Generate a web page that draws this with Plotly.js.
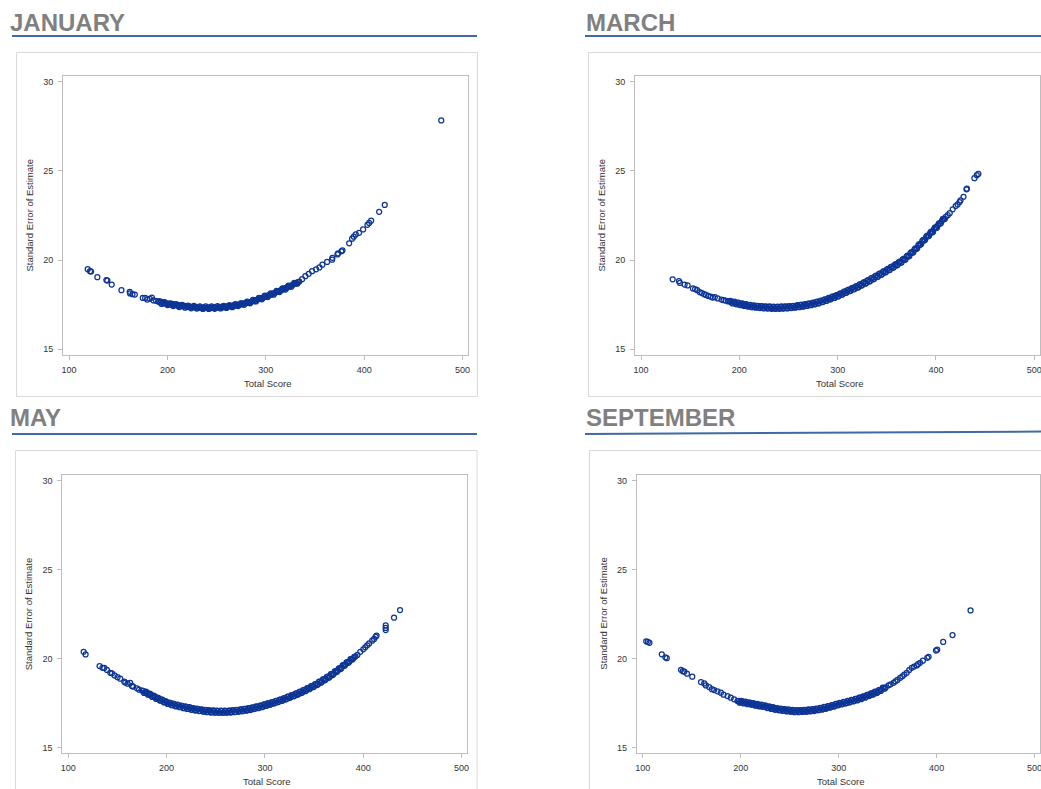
<!DOCTYPE html>
<html>
<head>
<meta charset="utf-8">
<script src="https://cdn.plot.ly/plotly-3.0.1.min.js"></script>
<style>
  html, body { margin: 0; padding: 0; background: #ffffff; overflow: hidden; }
  #chart { width: 1041px; height: 789px; }
</style>
</head>
<body>
<div id="chart"></div>
<script>
// Standard error of the ability estimate against total score, one panel per test window.

const panelTitles = ["JANUARY", "MARCH", "MAY", "SEPTEMBER"];
const xTitle = "Total Score";
const yTitle = "Standard Error of Estimate";
const xTickValues = [100, 200, 300, 400, 500];
const yTickValues = [15, 20, 25, 30];

// January
const janScore = [
  119.0, 121.4, 122.4, 128.8, 138.0, 139.0, 143.4, 153.3, 161.7, 162.0, 164.5, 166.9,
  175.0, 177.4, 179.4, 182.1, 184.2, 185.8, 188.5,
  191, 193, 195, 196, 198, 199, 201, 202, 204, 205, 207, 208, 210, 211, 213, 214, 216, 217, 219, 220,
  222, 223, 225, 226, 228, 229, 231, 232, 234, 235, 237, 238, 240, 241, 243, 244, 246, 247, 249, 250,
  252, 253, 255, 256, 258, 259, 261, 262, 264, 265, 267, 268, 270, 271, 273, 274, 276, 277, 279, 280,
  282, 283, 285, 286, 288, 289, 291, 292, 294, 295, 297, 298, 300, 301, 303, 304, 306, 307, 309, 310,
  312, 313, 315, 316, 318, 319, 321, 322, 324, 325, 327, 328, 330, 331, 333, 334,
  336.9, 340.2, 343.6, 347.0, 351.1, 354.5, 357.5, 362.3, 367.4, 367.7, 372.8, 373.5, 376.8, 377.9,
  384.7, 387.7, 389.4, 391.4, 394.8, 398.9, 403.3, 405.0, 407.1, 415.2, 420.9, 478.3
];
const janSE = [
  19.49, 19.38, 19.36, 19.04, 18.88, 18.85, 18.63, 18.31, 18.22, 18.13, 18.09, 18.07,
  17.88, 17.88, 17.79, 17.83, 17.90, 17.74, 17.72,
  17.66, 17.62, 17.64, 17.58, 17.60, 17.55, 17.56, 17.52, 17.50, 17.54, 17.48, 17.50, 17.46, 17.44, 17.47, 17.42, 17.41, 17.44, 17.40, 17.38,
  17.41, 17.37, 17.36, 17.39, 17.35, 17.33, 17.37, 17.34, 17.32, 17.35, 17.33, 17.31, 17.34, 17.32, 17.35, 17.31, 17.33, 17.36, 17.32, 17.34,
  17.37, 17.35, 17.33, 17.38, 17.36, 17.40, 17.38, 17.42, 17.40, 17.44, 17.43, 17.47, 17.45, 17.49, 17.50, 17.53, 17.52, 17.56, 17.57, 17.60,
  17.60, 17.64, 17.66, 17.69, 17.70, 17.74, 17.76, 17.80, 17.83, 17.86, 17.88, 17.93, 17.95, 17.99, 18.02, 18.05, 18.08, 18.12, 18.15, 18.19,
  18.22, 18.26, 18.30, 18.33, 18.37, 18.41, 18.44, 18.48, 18.52, 18.55, 18.60, 18.64, 18.68, 18.72, 18.77, 18.80,
  18.93, 19.10, 19.23, 19.38, 19.48, 19.59, 19.74, 19.90, 20.02, 20.13, 20.32, 20.38, 20.49, 20.54,
  20.94, 21.20, 21.31, 21.44, 21.53, 21.72, 21.98, 22.08, 22.21, 22.71, 23.09, 27.83
];
// January, further examinees in the crowded middle of the range: [score, SE]
const janMiddle = [
  [192, 17.70], [194, 17.54], [197, 17.65], [200, 17.48], [203, 17.58], [206, 17.42], [209, 17.53], [212, 17.37],
  [215, 17.49], [218, 17.33], [221, 17.45], [224, 17.30], [227, 17.43], [230, 17.28], [233, 17.41], [236, 17.26],
  [239, 17.40], [242, 17.26], [245, 17.40], [248, 17.27], [251, 17.42], [254, 17.29], [257, 17.44], [260, 17.32],
  [263, 17.48], [266, 17.36], [269, 17.53], [272, 17.42], [275, 17.59], [278, 17.49], [281, 17.67], [284, 17.58],
  [287, 17.77], [290, 17.68], [293, 17.88], [296, 17.80], [299, 18.01], [302, 17.93], [305, 18.13], [308, 18.06],
  [311, 18.27], [314, 18.21], [317, 18.42], [320, 18.35], [323, 18.57], [326, 18.51], [329, 18.73], [332, 18.68]
];

// March
const marScore = [
  132.2, 138.6, 139.6, 144.4, 147.4, 152.8, 155, 157.2, 159.9, 162, 164.3, 166, 168.3, 171, 173, 175.1,
  178, 181.9, 184, 186, 188.6,
  190, 192, 194, 196, 198, 200, 202, 204, 206, 208, 210, 212, 214, 216, 218, 220, 222, 224, 226, 228,
  230, 232, 234, 236, 238, 240, 242, 244, 246, 248, 250, 252, 254, 256, 258, 260, 262, 264, 266, 268,
  270, 272, 274, 276, 278, 280, 282, 284, 286, 288, 290, 292, 294, 296, 298, 300, 302, 304, 306, 308,
  310, 312, 314, 316, 318, 320, 322, 324, 326, 328, 330, 332, 334, 336, 338, 340, 342, 344, 346, 348,
  350, 352, 354, 356, 358, 360, 362, 364, 366, 368, 370, 372, 374, 376, 378, 380, 382, 384, 386, 388,
  390, 392, 394, 396, 398, 400, 402, 404, 406, 408, 410, 412, 414, 417, 420, 422, 424, 425, 428,
  431, 431.5, 439.1, 441.5, 443.1
];
const marSE = [
  18.92, 18.82, 18.72, 18.63, 18.58, 18.41, 18.38, 18.31, 18.20, 18.15, 18.09, 18.05, 17.99, 17.95, 17.90, 17.92,
  17.85, 17.79, 17.75, 17.73, 17.68,
  17.70, 17.62, 17.65, 17.57, 17.60, 17.51, 17.55, 17.47, 17.51, 17.43, 17.47, 17.39, 17.44, 17.36, 17.42, 17.34, 17.41, 17.32, 17.39, 17.31,
  17.38, 17.30, 17.37, 17.29, 17.37, 17.29, 17.38, 17.30, 17.39, 17.31, 17.40, 17.33, 17.42, 17.35, 17.44, 17.38, 17.47, 17.41, 17.50, 17.44,
  17.54, 17.48, 17.58, 17.53, 17.64, 17.58, 17.70, 17.65, 17.77, 17.72, 17.84, 17.80, 17.92, 17.88, 18.01, 17.96, 18.10, 18.06, 18.20, 18.16,
  18.30, 18.26, 18.40, 18.36, 18.50, 18.46, 18.61, 18.57, 18.73, 18.68, 18.85, 18.80, 18.97, 18.92, 19.09, 19.05, 19.21, 19.17, 19.34, 19.30,
  19.47, 19.43, 19.60, 19.57, 19.73, 19.70, 19.87, 19.85, 20.02, 20.01, 20.19, 20.20, 20.38, 20.40, 20.59, 20.62, 20.82, 20.86, 21.06, 21.10,
  21.30, 21.33, 21.51, 21.55, 21.74, 21.80, 21.95, 22.05, 22.20, 22.30, 22.43, 22.52, 22.63, 22.85, 23.03, 23.12, 23.25, 23.35, 23.55,
  23.97, 24.00, 24.59, 24.76, 24.83
];
// March, further examinees in the crowded middle of the range: [score, SE]
const marMiddle = [
  [191, 17.72], [193, 17.57], [195, 17.67], [197, 17.52], [199, 17.61], [201, 17.47], [203, 17.57], [205, 17.43], [207, 17.53], [209, 17.39],
  [211, 17.49], [213, 17.35], [215, 17.46], [217, 17.33], [219, 17.44], [221, 17.31], [223, 17.42], [225, 17.29], [227, 17.41], [229, 17.28],
  [231, 17.40], [233, 17.27], [235, 17.39], [237, 17.27], [239, 17.39], [241, 17.27], [243, 17.40], [245, 17.28], [247, 17.41], [249, 17.29],
  [251, 17.42], [253, 17.31], [255, 17.44], [257, 17.33], [259, 17.47], [261, 17.36], [263, 17.50], [265, 17.39], [267, 17.53], [269, 17.43],
  [271, 17.57], [273, 17.47], [275, 17.61], [277, 17.52], [279, 17.67], [281, 17.58], [283, 17.73], [285, 17.65], [287, 17.80], [289, 17.72],
  [291, 17.88], [293, 17.80], [295, 17.96], [297, 17.88], [299, 18.04], [301, 17.97], [303, 18.14], [305, 18.07], [307, 18.24], [309, 18.17],
  [311, 18.34], [313, 18.27], [315, 18.44], [317, 18.37], [319, 18.54], [321, 18.47], [323, 18.65], [325, 18.59], [327, 18.76], [329, 18.70],
  [331, 18.88], [333, 18.82], [335, 19.00], [337, 18.94], [339, 19.13], [341, 19.07], [343, 19.25], [345, 19.19], [347, 19.38], [349, 19.32],
  [351, 19.51], [353, 19.45], [355, 19.64], [357, 19.59], [359, 19.77], [361, 19.72], [363, 19.92], [365, 19.87], [367, 20.07], [369, 20.04],
  [371, 20.25], [373, 20.23], [375, 20.45], [377, 20.44], [379, 20.66], [381, 20.66], [383, 20.90], [385, 20.90], [387, 21.14], [389, 21.14],
  [391, 21.37], [393, 21.36], [395, 21.59], [397, 21.58], [399, 21.83], [401, 21.82], [403, 22.06], [405, 22.06], [407, 22.31], [409, 22.30]
];

// May
const mayScore = [
  115.6, 117.6, 131.8, 134.8, 136.6, 139.3, 142.7, 144.4, 147, 150.1, 152.8, 156.9, 158, 160.3, 163.0, 164.7,
  166, 169.8, 172, 175,
  176, 178, 180, 182, 184, 186, 188, 190, 192, 194, 196, 198, 200, 202, 204, 206, 208, 210, 212, 214,
  216, 218, 220, 222, 224, 226, 228, 230, 232, 234, 236, 238, 240, 242, 244, 246, 248, 250, 252, 254,
  256, 258, 260, 262, 264, 266, 268, 270, 272, 274, 276, 278, 280, 282, 284, 286, 288, 290, 292, 294,
  296, 298, 300, 302, 304, 306, 308, 310, 312, 314, 316, 318, 320, 322, 324, 326, 328, 330, 332, 334,
  336, 338, 340, 342, 344, 346, 348, 350, 352, 354, 356, 358, 360, 362, 364, 366, 368, 370, 372, 374,
  376, 378, 380, 382, 384, 386, 388, 390, 392, 394, 397, 400, 402, 404, 406, 409, 411, 412.6, 413.5,
  422.8, 422.8, 422.8, 431.3, 437.4
];
const maySE = [
  20.38, 20.23, 19.58, 19.48, 19.47, 19.36, 19.20, 19.17, 19.05, 18.95, 18.87, 18.70, 18.65, 18.59, 18.63, 18.46,
  18.42, 18.33, 18.25, 18.20,
  18.18, 18.08, 18.08, 17.98, 17.97, 17.86, 17.86, 17.75, 17.76, 17.65, 17.66, 17.55, 17.56, 17.46, 17.49, 17.39, 17.43, 17.33, 17.38, 17.28,
  17.33, 17.22, 17.28, 17.18, 17.24, 17.13, 17.19, 17.10, 17.16, 17.06, 17.13, 17.03, 17.10, 17.01, 17.08, 16.99, 17.07, 16.98, 17.06, 16.97,
  17.06, 16.97, 17.06, 16.98, 17.07, 16.99, 17.09, 17.01, 17.11, 17.04, 17.14, 17.07, 17.17, 17.10, 17.20, 17.14, 17.25, 17.19, 17.30, 17.24,
  17.36, 17.30, 17.42, 17.37, 17.48, 17.43, 17.55, 17.50, 17.62, 17.57, 17.70, 17.65, 17.78, 17.73, 17.86, 17.82, 17.95, 17.90, 18.04, 18.00,
  18.14, 18.10, 18.24, 18.21, 18.35, 18.32, 18.46, 18.43, 18.58, 18.56, 18.71, 18.69, 18.84, 18.83, 18.98, 18.98, 19.13, 19.14, 19.29, 19.31,
  19.46, 19.48, 19.64, 19.66, 19.80, 19.84, 19.97, 20.02, 20.12, 20.20, 20.38, 20.52, 20.63, 20.74, 20.85, 21.00, 21.10, 21.22, 21.28,
  21.60, 21.72, 21.86, 22.29, 22.72
];
// May, further examinees in the crowded middle of the range: [score, SE]
const mayMiddle = [
  [177, 18.07], [179, 18.14], [181, 17.97], [183, 18.03], [185, 17.85], [187, 17.92], [189, 17.74], [191, 17.81], [193, 17.64], [195, 17.71],
  [197, 17.54], [199, 17.61], [201, 17.45], [203, 17.53], [205, 17.38], [207, 17.47], [209, 17.32], [211, 17.41], [213, 17.27], [215, 17.36],
  [217, 17.21], [219, 17.31], [221, 17.17], [223, 17.27], [225, 17.12], [227, 17.22], [229, 17.08], [231, 17.19], [233, 17.05], [235, 17.15],
  [237, 17.02], [239, 17.12], [241, 16.99], [243, 17.10], [245, 16.97], [247, 17.09], [249, 16.96], [251, 17.08], [253, 16.95], [255, 17.07],
  [257, 16.95], [259, 17.07], [261, 16.96], [263, 17.08], [265, 16.97], [267, 17.10], [269, 16.99], [271, 17.12], [273, 17.01], [275, 17.15],
  [277, 17.04], [279, 17.18], [281, 17.07], [283, 17.21], [285, 17.11], [287, 17.26], [289, 17.16], [291, 17.31], [293, 17.21], [295, 17.36],
  [297, 17.27], [299, 17.42], [301, 17.34], [303, 17.49], [305, 17.40], [307, 17.55], [309, 17.47], [311, 17.62], [313, 17.54], [315, 17.70],
  [317, 17.62], [319, 17.77], [321, 17.70], [323, 17.86], [325, 17.78], [327, 17.94], [329, 17.87], [331, 18.03], [333, 17.96], [335, 18.13],
  [337, 18.06], [339, 18.23], [341, 18.17], [343, 18.34], [345, 18.28], [347, 18.45], [349, 18.39], [351, 18.57], [353, 18.51], [355, 18.70],
  [357, 18.64], [359, 18.83], [361, 18.78], [363, 18.97], [365, 18.92], [367, 19.12], [369, 19.07], [371, 19.28], [373, 19.24], [375, 19.44],
  [377, 19.41], [379, 19.62], [381, 19.59], [383, 19.79], [385, 19.76], [387, 19.97], [389, 19.94], [391, 20.10]
];

// September
const sepScore = [
  103.6, 105.3, 106.9, 119.5, 123.2, 124.6, 139.1, 140.9, 142.5, 145.2, 150.6, 159.5, 162.8, 164.5,
  167.9, 170.6, 173.0, 176.4, 179.8, 182.5, 186.6, 189.9, 193.3, 196.7,
  198, 200, 202, 204, 206, 208, 210, 212, 214, 216, 218, 220, 222, 224, 226, 228, 230, 232, 234, 236,
  238, 240, 242, 244, 246, 248, 250, 252, 254, 256, 258, 260, 262, 264, 266, 268, 270, 272, 274, 276,
  278, 280, 282, 284, 286, 288, 290, 292, 294, 296, 298, 300, 302, 304, 306, 308, 310, 312, 314, 316,
  318, 320, 322, 324, 326, 328, 330, 332, 334, 336, 338, 340, 342, 344, 346, 348,
  351, 353, 356, 358, 360, 362.8, 365, 367, 369.5, 372, 374.6, 377, 379.7, 381, 383.1, 386, 390.5, 391.8,
  399.3, 400.6, 406.7, 416.2, 434.6
];
const sepSE = [
  20.97, 20.93, 20.88, 20.24, 20.07, 20.02, 19.37, 19.29, 19.26, 19.15, 18.98, 18.68, 18.60, 18.49,
  18.40, 18.28, 18.23, 18.16, 18.08, 17.97, 17.89, 17.80, 17.71, 17.61,
  17.62, 17.55, 17.58, 17.51, 17.54, 17.47, 17.50, 17.42, 17.45, 17.37, 17.41, 17.33, 17.38, 17.30, 17.33, 17.24, 17.28, 17.19, 17.23, 17.14,
  17.19, 17.11, 17.16, 17.08, 17.13, 17.05, 17.11, 17.03, 17.09, 17.02, 17.09, 17.02, 17.09, 17.03, 17.10, 17.04, 17.12, 17.06, 17.14, 17.09,
  17.18, 17.12, 17.22, 17.17, 17.27, 17.22, 17.33, 17.28, 17.39, 17.34, 17.45, 17.41, 17.50, 17.46, 17.56, 17.51, 17.61, 17.57, 17.67, 17.63,
  17.73, 17.70, 17.80, 17.77, 17.88, 17.85, 17.96, 17.94, 18.04, 18.03, 18.13, 18.12, 18.22, 18.26, 18.36, 18.38,
  18.50, 18.55, 18.64, 18.72, 18.80, 18.92, 19.00, 19.10, 19.20, 19.35, 19.48, 19.55, 19.61, 19.68, 19.76, 19.88, 20.04, 20.10,
  20.45, 20.50, 20.93, 21.32, 22.70
];
// September, further examinees in the crowded middle of the range: [score, SE]
const sepMiddle = [
  [199, 17.52], [201, 17.62], [203, 17.48], [205, 17.58], [207, 17.44], [209, 17.54], [211, 17.40], [213, 17.49], [215, 17.35], [217, 17.45],
  [219, 17.31], [221, 17.41], [223, 17.28], [225, 17.37], [227, 17.22], [229, 17.32], [231, 17.17], [233, 17.27], [235, 17.12], [237, 17.22],
  [239, 17.09], [241, 17.19], [243, 17.06], [245, 17.16], [247, 17.03], [249, 17.14], [251, 17.01], [253, 17.12], [255, 16.99], [257, 17.11],
  [259, 16.99], [261, 17.11], [263, 17.00], [265, 17.12], [267, 17.01], [269, 17.14], [271, 17.03], [273, 17.16], [275, 17.05], [277, 17.19],
  [279, 17.09], [281, 17.23], [283, 17.13], [285, 17.28], [287, 17.18], [289, 17.33], [291, 17.24], [293, 17.39], [295, 17.30], [297, 17.45],
  [299, 17.37], [301, 17.51], [303, 17.42], [305, 17.57], [307, 17.47], [309, 17.62], [311, 17.53], [313, 17.68], [315, 17.59], [317, 17.74],
  [319, 17.65], [321, 17.81], [323, 17.72], [325, 17.88], [327, 17.80], [329, 17.96], [331, 17.89], [333, 18.05], [335, 17.97], [337, 18.14],
  [339, 18.06], [341, 18.23], [343, 18.18], [345, 18.37], [347, 18.31]
];

// ---- page geometry (pixels) ----
const W = 1041, H = 789;
const px = v => v / W;
const py = v => 1 - v / H;

// plot-area rectangles [left, top, right, bottom] for each panel
const plotBoxes = [
  [63, 76, 468.3, 355],
  [635, 76, 1040, 355],
  [62.3, 474.7, 467.3, 753.3],
  [636.7, 474.7, 1040.3, 753.3]
];
// outer frames around each panel
const frames = [
  [16.5, 52.5, 477.5, 396.5],
  [588.5, 52.5, 1046, 396.5],
  [15.5, 450.5, 477, 795],
  [589.5, 450.5, 1046, 795]
];
// heading rules under each title: [x0, y0, x1, y1]
const rules = [
  [12, 36, 477, 36],
  [585, 36, 1041, 36],
  [12, 434, 477, 434],
  [585, 434, 1041, 431.5]
];
const headingPos = [[9, 22.8], [585, 22.8], [9, 417], [585, 417]];

const FONT = "'Liberation Sans', Arial, sans-serif";
const AXIS_GREY = "#bdbdbd";
const MARK = "#0d3595";
const xRange = [93.9, 505.8];
const yRange = [14.68, 30.32];

const panels = [
  { x: janScore, y: janSE, extra: janMiddle },
  { x: marScore, y: marSE, extra: marMiddle },
  { x: mayScore, y: maySE, extra: mayMiddle },
  { x: sepScore, y: sepSE, extra: sepMiddle }
];

const traces = [];
const layout = {
  width: W, height: H,
  margin: { l: 0, r: 0, t: 0, b: 0, pad: 0 },
  paper_bgcolor: "#ffffff",
  plot_bgcolor: "#ffffff",
  showlegend: false,
  shapes: [],
  annotations: []
};

for (let i = 0; i < 4; i++) {
  const n = i === 0 ? "" : String(i + 1);
  const b = plotBoxes[i];
  const p = panels[i];
  traces.push({
    type: "scatter",
    mode: "markers",
    x: p.x.concat(p.extra.map(d => d[0])),
    y: p.y.concat(p.extra.map(d => d[1])),
    xaxis: "x" + n,
    yaxis: "y" + n,
    marker: {
      symbol: "circle-open",
      size: 5,
      color: MARK,
      line: { width: 1.25, color: MARK }
    },
    hoverinfo: "x+y"
  });
  const common = {
    showline: true, mirror: true, linecolor: AXIS_GREY, linewidth: 1,
    ticks: "outside", ticklen: 4, tickwidth: 1, tickcolor: AXIS_GREY,
    tickfont: { family: FONT, size: 9, color: "#333333" },
    showgrid: false, zeroline: false, fixedrange: true
  };
  layout["xaxis" + n] = Object.assign({}, common, {
    domain: [px(b[0]), px(b[2])],
    range: xRange,
    tickvals: xTickValues,
    anchor: "y" + n,
    ticklabelstandoff: 2,
    ticklabeloverflow: "allow"
  });
  layout["yaxis" + n] = Object.assign({}, common, {
    domain: [py(b[3]), py(b[1])],
    range: yRange,
    tickvals: yTickValues,
    anchor: "x" + n,
    ticklabelstandoff: 3
  });

  // outer frame
  const f = frames[i];
  layout.shapes.push({
    type: "rect", xref: "paper", yref: "paper",
    x0: px(f[0]), x1: px(f[2]), y0: py(f[3]), y1: py(f[1]),
    line: { color: "#d9d9d9", width: 1 }, fillcolor: "rgba(0,0,0,0)", layer: "below"
  });
  // heading rule
  const r = rules[i];
  layout.shapes.push({
    type: "line", xref: "paper", yref: "paper",
    x0: px(r[0]), y0: py(r[1]), x1: px(r[2]), y1: py(r[3]),
    line: { color: "#4169a3", width: 2 }
  });
  // heading
  layout.annotations.push({
    xref: "paper", yref: "paper",
    x: px(headingPos[i][0]), y: py(headingPos[i][1]),
    xanchor: "left", yanchor: "middle",
    text: panelTitles[i], showarrow: false, borderpad: 0,
    font: { family: FONT, size: 24, color: "#808080", weight: "bold" }
  });
  // axis titles
  layout.annotations.push({
    xref: "paper", yref: "paper",
    x: px((b[0] + b[2]) / 2 + 2), y: py(b[3] + 28),
    xanchor: "center", yanchor: "middle",
    text: xTitle, showarrow: false, borderpad: 0,
    font: { family: FONT, size: 9.5, color: "#333333" }
  });
  layout.annotations.push({
    xref: "paper", yref: "paper",
    x: px(b[0] - 34), y: py((b[1] + b[3]) / 2),
    xanchor: "center", yanchor: "middle", textangle: -90,
    text: yTitle, showarrow: false, borderpad: 0,
    font: { family: FONT, size: 9.5, color: "#333333" }
  });
}

Plotly.newPlot("chart", traces, layout, { displayModeBar: false, responsive: false });
</script>
</body>
</html>
